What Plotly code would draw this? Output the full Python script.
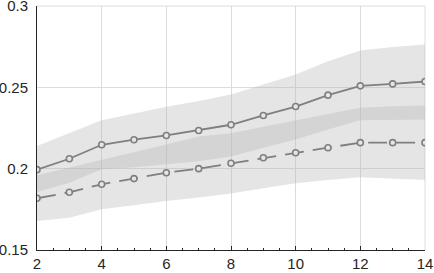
import plotly.graph_objects as go

x = [2, 3, 4, 5, 6, 7, 8, 9, 10, 11, 12, 13, 14]

solid_mean = [0.1994, 0.2061, 0.2147, 0.2178, 0.2204, 0.2235, 0.2270, 0.2327, 0.2382, 0.2452, 0.2509, 0.2521, 0.2536]
solid_upper = [0.2139, 0.2218, 0.2298, 0.2339, 0.2380, 0.2416, 0.2456, 0.2517, 0.2579, 0.2660, 0.2726, 0.2748, 0.2763]
solid_lower = [0.1856, 0.1914, 0.1996, 0.2008, 0.2026, 0.2045, 0.2075, 0.2129, 0.2180, 0.2241, 0.2298, 0.2301, 0.2302]

dashed_mean = [0.1818, 0.1855, 0.1904, 0.1939, 0.1975, 0.2000, 0.2033, 0.2067, 0.2098, 0.2129, 0.2160, 0.2160, 0.2160]
dashed_upper = [0.1959, 0.2006, 0.2053, 0.2098, 0.2149, 0.2198, 0.2217, 0.2258, 0.2296, 0.2333, 0.2374, 0.2384, 0.2388]
dashed_lower = [0.1679, 0.1699, 0.1750, 0.1775, 0.1801, 0.1822, 0.1848, 0.1879, 0.1910, 0.1930, 0.1948, 0.1939, 0.1930]

x_ticks = [2, 4, 6, 8, 10, 12, 14]
y_ticks = [0.15, 0.2, 0.25, 0.3]
y_ticklabels = ["0.15", "0.2", "0.25", "0.3"]

band_fill = "rgba(180,180,180,0.346)"
line_col = "#7f7f7f"

fig = go.Figure()

for up, lo in [(solid_upper, solid_lower), (dashed_upper, dashed_lower)]:
    fig.add_trace(go.Scatter(
        x=x + x[::-1], y=up + lo[::-1], fill="toself", fillcolor=band_fill,
        line=dict(width=0), mode="lines", hoverinfo="skip", showlegend=False))

marker = dict(symbol="circle", size=6, color="#e6e6e6", line=dict(color=line_col, width=1.6))
fig.add_trace(go.Scatter(x=x, y=solid_mean, mode="lines+markers",
                         line=dict(color=line_col, width=1.8), marker=marker, showlegend=False))
fig.add_trace(go.Scatter(x=x, y=dashed_mean, mode="lines+markers",
                         line=dict(color=line_col, width=1.8, dash="19px,9px"), marker=marker, showlegend=False))

font = dict(family="Liberation Sans, Arial, sans-serif", size=15, color="#262626")

fig.update_xaxes(range=[2, 14.00001], tickvals=x_ticks, ticktext=[str(t) for t in x_ticks],
                 showgrid=True, gridcolor="#dcdcdc", gridwidth=1,
                 showline=True, linecolor="#262626", linewidth=1,
                 ticks="inside", ticklen=4, tickcolor="#262626", tickwidth=1,
                 minor=dict(dtick=0.5, tick0=2, ticks="inside", ticklen=2, tickcolor="#262626", showgrid=False),
                 zeroline=False, tickfont=font, automargin=False, ticklabeloverflow="allow")
fig.update_yaxes(range=[0.15, 0.300001], tickvals=y_ticks, ticktext=y_ticklabels,
                 showgrid=True, gridcolor="#dcdcdc", gridwidth=1,
                 showline=True, linecolor="#262626", linewidth=1,
                 ticks="", zeroline=False, tickfont=font, ticklabelstandoff=5, automargin=False,
                 ticklabeloverflow="allow")

fig.add_shape(type="line", xref="paper", yref="paper", x0=0, x1=1, y0=1, y1=1,
              line=dict(color="#dcdcdc", width=1), layer="below")
fig.add_shape(type="line", xref="paper", yref="paper", x0=1, x1=1, y0=0, y1=1,
              line=dict(color="#dcdcdc", width=1), layer="below")

fig.update_layout(width=434, height=273, margin=dict(l=37, r=9, t=6, b=23, autoexpand=False),
                  plot_bgcolor="white", paper_bgcolor="white", font=font)

fig.write_html("out.html", config={"displayModeBar": False, "staticPlot": True},
               post_script="document.body.style.margin='0';")
